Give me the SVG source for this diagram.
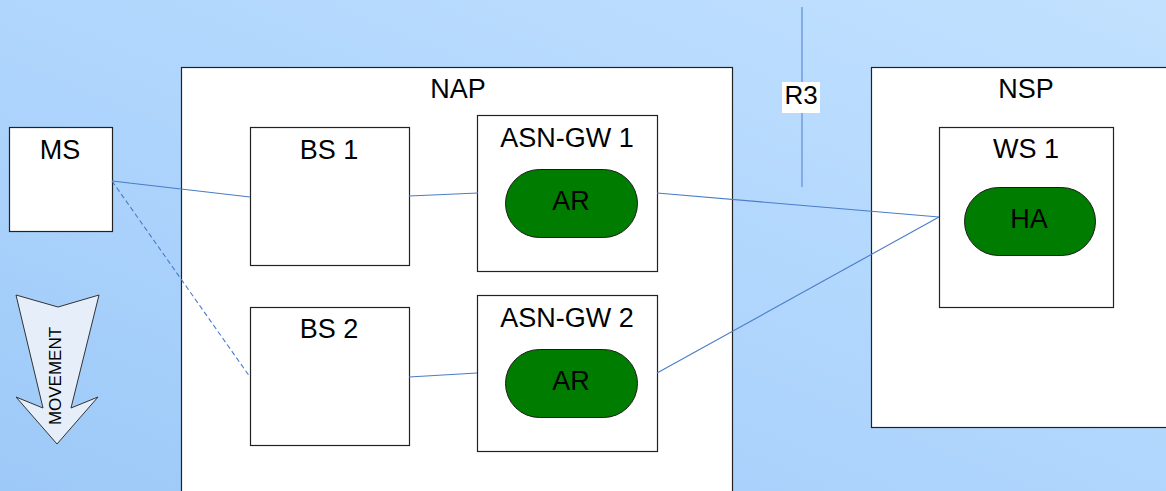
<svg xmlns="http://www.w3.org/2000/svg" width="1166" height="491" viewBox="0 0 1166 491">
<defs>
<linearGradient id="bg" x1="0" y1="1" x2="1" y2="0">
<stop offset="0" stop-color="#9dc9f8"/>
<stop offset="0.5" stop-color="#b0d6fd"/>
<stop offset="1" stop-color="#c2e1ff"/>
</linearGradient>
<style>
.box{fill:#ffffff;stroke:#222222;stroke-width:1.2}
.pill{fill:#007c00;stroke:#1a1a1a;stroke-width:1}
.t{font-family:"Liberation Sans",Arial,sans-serif;font-size:27px;fill:#000;text-anchor:middle}
.c{stroke:#4a7cc8;stroke-width:1.1;fill:none}
.d{stroke-dasharray:5,3}
</style>
</defs>
<rect x="0" y="0" width="1166" height="491" fill="url(#bg)"/>

<g id="r3">
<line x1="802" y1="7" x2="802" y2="187" stroke="#6f9ddc" stroke-width="1.5"/>
<rect x="782" y="82" width="38" height="31" fill="#ffffff"/>
<text class="t" x="801" y="104" style="font-size:26px">R3</text>
</g>

<g id="nap">
<rect class="box" x="181.5" y="67.5" width="551" height="440"/>
<text class="t" x="458" y="98">NAP</text>
</g>

<g id="nsp">
<rect class="box" x="871.5" y="67.5" width="310" height="360"/>
<text class="t" x="1026" y="98">NSP</text>
</g>

<g id="ms">
<rect class="box" x="9.5" y="127.5" width="103" height="104"/>
<text class="t" x="60" y="159">MS</text>
</g>

<g id="movement">
<polygon points="16,295 58,307 99,295 71,408 98,397 57,444 16,397 43,408" fill="#e6eefa" stroke="#333333" stroke-width="1"/>
<text class="t" transform="translate(61,376) rotate(-90)" style="font-size:17px">MOVEMENT</text>
</g>

<g id="bs1">
<rect class="box" x="250.5" y="127.5" width="159" height="138"/>
<text class="t" x="329" y="159">BS 1</text>
</g>

<g id="bs2">
<rect class="box" x="250.5" y="307.5" width="159" height="138"/>
<text class="t" x="329" y="338">BS 2</text>
</g>

<g id="asngw1">
<rect class="box" x="477.5" y="115.5" width="180" height="156"/>
<text class="t" x="567" y="147">ASN-GW 1</text>
</g>

<g id="ar1">
<rect class="pill" x="505.5" y="169.5" width="132" height="68" rx="34" ry="34"/>
<text class="t" x="571" y="210">AR</text>
</g>

<g id="asngw2">
<rect class="box" x="477.5" y="295.5" width="180" height="156"/>
<text class="t" x="567" y="327">ASN-GW 2</text>
</g>

<g id="ar2">
<rect class="pill" x="505.5" y="349.5" width="132" height="68" rx="34" ry="34"/>
<text class="t" x="571" y="390">AR</text>
</g>

<g id="ws1">
<rect class="box" x="939.5" y="127.5" width="174" height="180"/>
<text class="t" x="1026" y="158">WS 1</text>
</g>

<g id="ha">
<rect class="pill" x="964.5" y="187.5" width="131" height="68" rx="34" ry="34"/>
<text class="t" x="1029" y="228">HA</text>
</g>

<g id="connectors">
<line class="c" x1="112" y1="181" x2="250" y2="197"/>
<line class="c d" x1="112" y1="181" x2="250" y2="377"/>
<line class="c" x1="409" y1="196" x2="478" y2="193"/>
<line class="c" x1="409" y1="377" x2="477" y2="373"/>
<line class="c" x1="657" y1="193" x2="939" y2="217"/>
<line class="c" x1="657" y1="373" x2="939" y2="217"/>
</g>
</svg>
